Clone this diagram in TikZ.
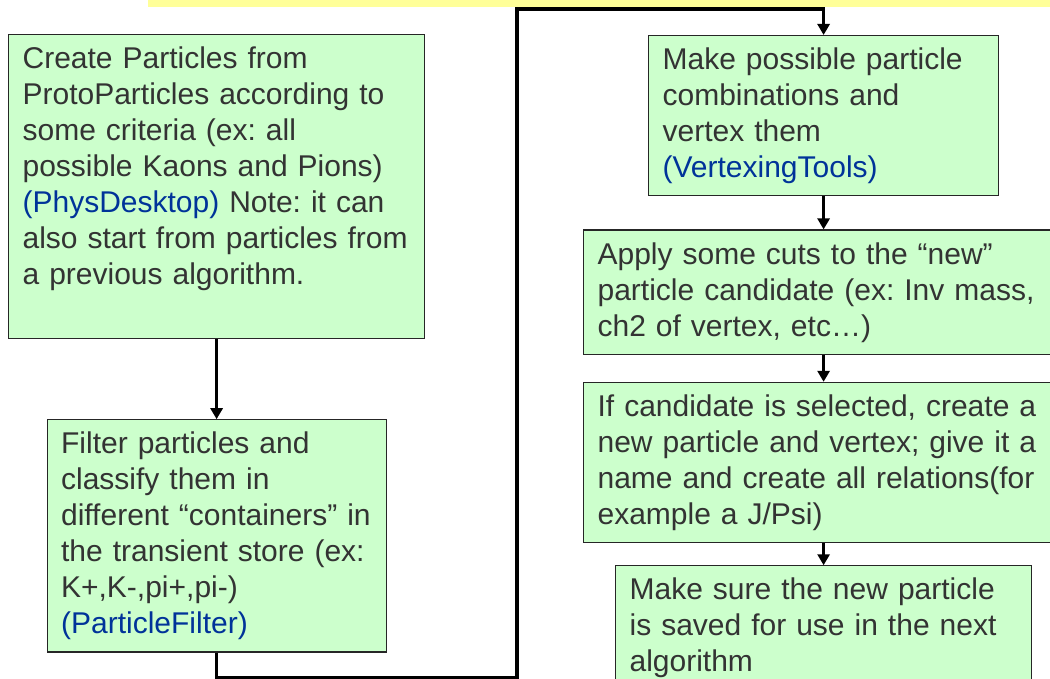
\documentclass[tikz,border=0pt]{standalone}
\usepackage{xcolor}
\usepackage{fontspec}
\setmainfont{Liberation Sans}
\usepackage{tikz}
\usetikzlibrary{positioning,arrows.meta}
\frenchspacing
\definecolor{stepfill}{RGB}{204,255,204}
\definecolor{tool}{RGB}{0,51,153}
\definecolor{stepfont}{RGB}{51,51,51}
\definecolor{banner}{RGB}{255,255,153}
\newcommand{\toolname}[1]{\textcolor{tool}{#1}}
\tikzstyle{textual} = [align=left, text=stepfont, font=\fontsize{15}{18}\selectfont]
\tikzstyle{stepbox} = [textual, rectangle, draw=black!85, line width=0.6pt, fill=stepfill, anchor=north west, inner xsep=7pt, inner ysep=6pt, text height=11pt]
\tikzset{
  % connector styles
  flow/.style={draw, line width=1.7pt, -{Triangle[width=6pt,length=5.5pt]}},
  % box widths
  narrow/.style={text width=155.5pt},
  medium/.style={text width=161pt},
  wide/.style={text width=194pt},
  wider/.style={text width=226pt},
}
\begin{document}
\begin{tikzpicture}[x=0.5pt, y=-0.5pt]
        \useasboundingbox (0,0) rectangle (1050,679);
        \clip (0,0) rectangle (1050,679);
        \fill[banner] (148,-20) rectangle (1060,7);
        % left column
        \node(Create)[stepbox, wide, text depth=129pt] at (8,34)
            {Create Particles from\\ProtoParticles according to\\some criteria (ex: all\\possible Kaons and Pions)\\\toolname{(PhysDesktop)} Note: it can\\also start from particles from\\a previous algorithm.};
        \node(Filter)[stepbox, narrow, below=40pt of Create]
            {Filter particles and\\classify them in\\different “containers” in\\the transient store (ex:\\K+,K-,pi+,pi-)\\\toolname{(ParticleFilter)}};
        % right column
        \node(Combine)[stepbox, medium] at (648,35)
            {Make possible particle\\combinations and\\vertex them\\\toolname{(VertexingTools)}};
        \node(Cut)[stepbox, wider, below=16.5pt of Combine]
            {Apply some cuts to the “new”\\particle candidate (ex: Inv mass,\\ch2 of vertex, etc…)};
        \node(Select)[stepbox, wider, below=13.5pt of Cut]
            {If candidate is selected, create a\\new particle and vertex; give it a\\name and create all relations(for\\example a J/Psi)};
        \node(Save)[stepbox, wide, below=11pt of Select]
            {Make sure the new particle\\is saved for use in the next\\algorithm};
        % connectors
        \coordinate(busLow) at (517,678);
        \coordinate(busHigh) at (517,9);
        \draw[flow] (Create) -- (Filter);
        \draw[flow] (Filter.south) |- (busLow) -- (busHigh) -| (Combine.north);
        \draw[flow] (Combine) -- (Cut);
        \draw[flow] (Cut) -- (Select);
        \draw[flow] (Select) -- (Save);
\end{tikzpicture}
\end{document}
